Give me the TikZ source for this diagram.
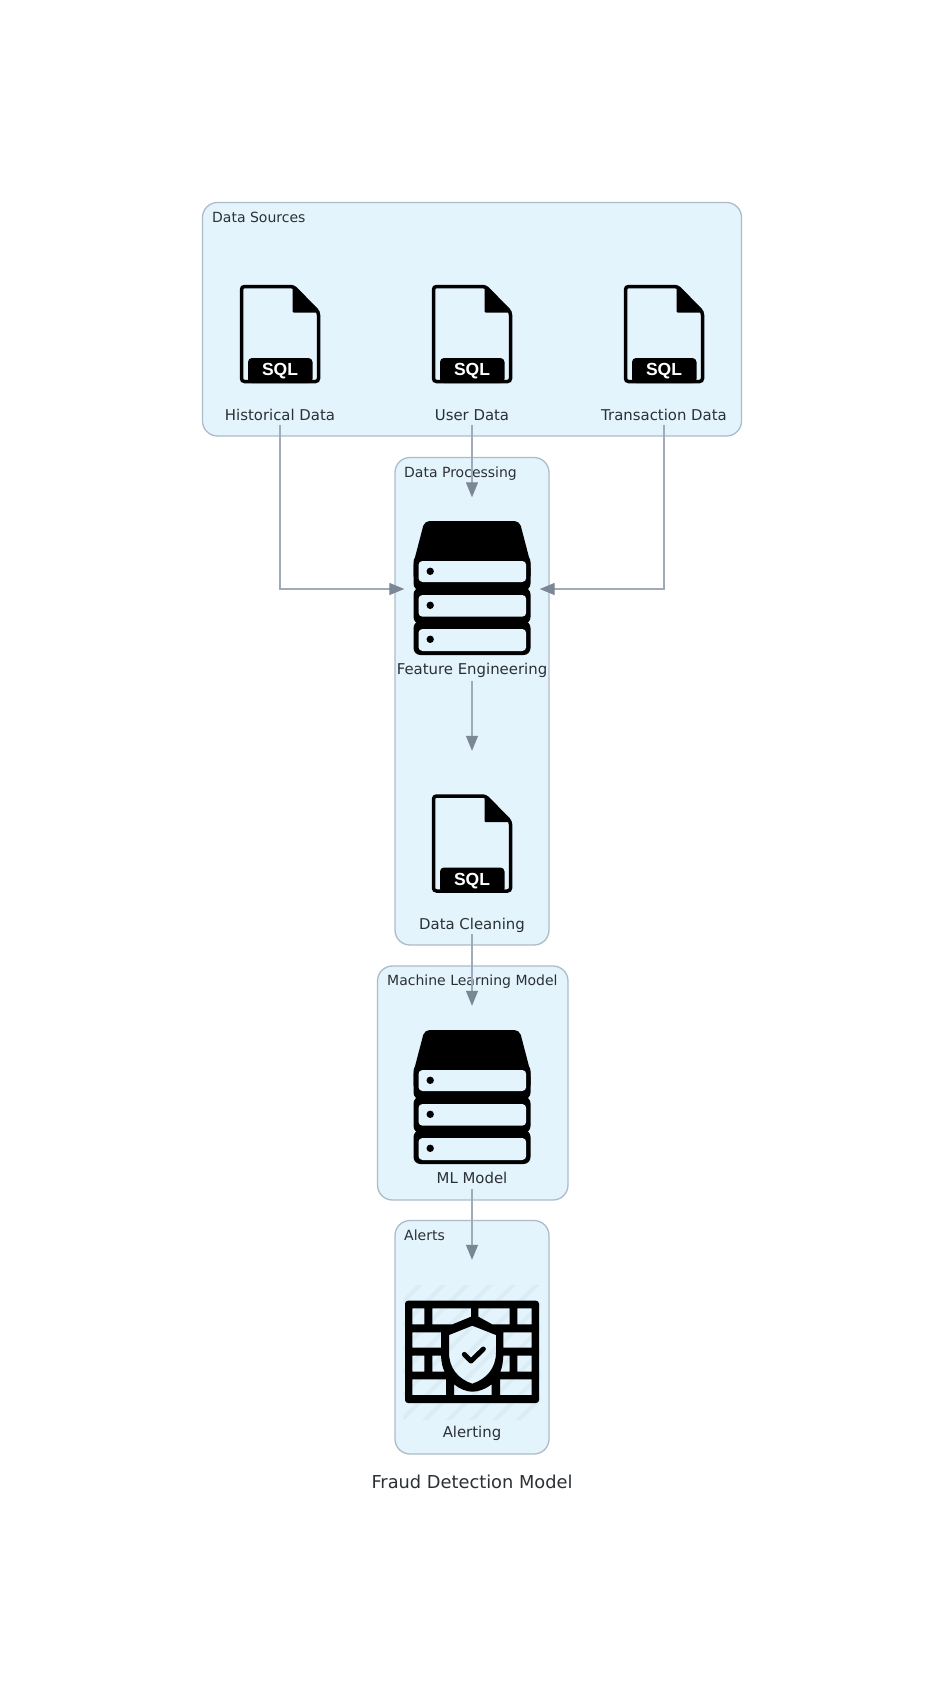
\documentclass[tikz,border=0pt]{standalone}
\usepackage{fontspec}
\setmainfont{DejaVu Sans}
\newfontfamily\sqlfont{Liberation Sans}
\usetikzlibrary{arrows.meta}
\definecolor{clfill}{HTML}{E3F4FD}
\definecolor{clline}{HTML}{AEBBC8}
\definecolor{edgeline}{HTML}{9FABB8}
\definecolor{edgehead}{HTML}{7B8794}
\definecolor{txt}{HTML}{2B3034}
\definecolor{stripe}{HTML}{DCECF5}
\tikzset{
  x=1pt,y=-1pt,
  cluster/.style={draw=clline,fill=clfill,line width=1.3pt,rounded corners=15pt},
  cltext/.style={anchor=base west,inner sep=0pt,text=txt,font=\fontsize{14}{16}\selectfont},
  svctext/.style={anchor=base,inner sep=0pt,text=txt,font=\fontsize{14.9}{17}\selectfont},
  svc/.style={inner sep=0pt,minimum width=135pt},
  conn/.style={draw=edgeline,line width=1.3pt,-{Triangle[length=15pt,width=12pt,color=edgehead]}},
  docicon/.pic={
    \draw[black,line width=3.5pt,rounded corners=3pt] (53.5,1.5) -- (1.5,1.5) -- (1.5,96.5) -- (78.5,96.5) -- (78.5,27) -- cycle;
    \fill[black,rounded corners=1pt] (52.5,0) -- (80,27.5) -- (52.5,27.5) -- cycle;
    \fill[black,rounded corners=4pt] (8,98) -- (8,73) -- (72.5,73) -- (72.5,98) -- cycle;
    \node[inner sep=0pt,text=white,font=\sqlfont\bfseries\fontsize{17.5}{18}\selectfont] (-sql) at (40,86.2) {SQL};
  },
  servericon/.pic={
    \fill[black,rounded corners=5pt] (0,42) -- (11,0) -- (106,0) -- (117,42) -- (117,60) -- (0,60) -- cycle;
    \fill[black,rounded corners=7pt] (0,34) rectangle (117,69.5);
    \fill[black,rounded corners=7pt] (0,66.5) rectangle (117,103);
    \fill[black,rounded corners=7pt] (0,100) rectangle (117,134);
    \foreach \t/\b in {40/61,74/95.7,108/130}{
      \fill[clfill,rounded corners=4pt] (5,\t) rectangle (112.7,\b);
      \fill[black] (16.7,\t+10.3) circle (3.7);
    }
  },
  fwicon/.pic={
    \begin{scope}[shift={(-10,-25.67)},scale=1/3]
      \begin{scope}
        \clip (25,30) rectangle (437,432);
        \foreach \k in {0,...,10}{
          \draw[stripe,line width=4pt] (105+70*\k-0,0) -- (0,105+70*\k);
        }
      \end{scope}
      \fill[black,even odd rule]
        [rounded corners=3pt] (30,77) -- (432,77) -- (432,384) -- (30,384) -- cycle
        [sharp corners]
        (52,100) rectangle (88,148)
        (112,100) -- (228,100) -- (228,125) -- (172,148) -- (112,148) -- cycle
        (250,100) -- (344,100) -- (344,148) -- (292,148) -- (250,125) -- cycle
        (367,100) rectangle (410,148)
        (52,172) rectangle (138,218)
        (325,172) rectangle (410,218)
        (52,242) rectangle (88,290)
        (112,242) -- (138,242) .. controls (139,260) and (142,278) .. (149,290) -- (112,290) -- cycle
        (344,242) -- (344,290) -- (316,290) .. controls (322,275) and (324,260) .. (325,242) -- cycle
        (367,242) rectangle (410,290)
        (52,313) rectangle (153,360)
        (315,313) rectangle (410,360)
        (177,328) .. controls (195,342) and (215,350) .. (232,350) .. controls (250,350) and (272,342) .. (290,328) -- (290,360) -- (177,360) -- cycle
        (232,152) -- (162,180) -- (162,232) .. controls (162,280) and (190,312) .. (232,326) .. controls (274,312) and (303,280) .. (303,232) -- (303,180) -- cycle;
      \draw[black,line width=5pt,line cap=round,line join=round] (208,238) -- (228,258) -- (265,222);
    \end{scope}
  }
}
\begin{document}
\begin{tikzpicture}
\useasboundingbox (0,0) rectangle (944,1691);
\fill[white] (0,0) rectangle (944,1691);
% clusters
\draw[cluster] (202.5,202.5) rectangle (741.5,436);
\draw[cluster] (395,457.5) rectangle (549,945);
\draw[cluster] (377.5,966) rectangle (568,1200);
\draw[cluster] (395,1220.5) rectangle (549,1454);
\node[cltext] (lsrc) at (212,222.7) {Data Sources};
\node[cltext] (lproc) at (404,477.5) {Data Processing};
\node[cltext] (lml) at (387,985.7) {Machine Learning Model};
\node[cltext] (lal) at (404,1240) {Alerts};
% service anchors
\node[svc,minimum height=155pt] (hist) at (280,347.5) {};
\node[svc,minimum height=155pt] (user) at (472,347.5) {};
\node[svc,minimum height=155pt] (trans) at (664,347.5) {};
\node[svc,minimum height=183pt] (feat) at (472,589) {};
\node[svc,minimum height=183pt] (clean) at (472,842.5) {};
\node[svc,minimum height=183pt] (ml) at (472,1097.5) {};
\node[svc,minimum height=183pt] (alert) at (472,1351.5) {};
% icons
\pic (ihist) at (240,285) {docicon};
\pic (iuser) at (432,285) {docicon};
\pic (itrans) at (624,285) {docicon};
\pic (iclean) at (432,794.5) {docicon};
\pic (ifeat) at (413.5,521) {servericon};
\pic (iml) at (413.5,1030) {servericon};
\pic (ialert) at (405,1300.7) {fwicon};
% labels
\node[svctext] (thist) at (280,420.7) {Historical Data};
\node[svctext] (tuser) at (472,420.7) {User Data};
\node[svctext] (ttrans) at (664,420.7) {Transaction Data};
\node[svctext] (tfeat) at (472,674.4) {Feature Engineering};
\node[svctext] (tclean) at (472,929.5) {Data Cleaning};
\node[svctext] (tml) at (472,1183.5) {ML Model};
\node[svctext] (talert) at (472,1437.7) {Alerting};
\node[anchor=base,inner sep=0pt,text=txt,font=\fontsize{17.8}{20}\selectfont] (title) at (472,1488) {Fraud Detection Model};
% connectors
\draw[conn] (user.south) -- (feat.north);
\draw[conn] (hist.south) |- (feat.west);
\draw[conn] (trans.south) |- (feat.east);
\draw[conn] (feat.south) -- (clean.north);
\draw[conn] (clean.south) -- (ml.north);
\draw[conn] (ml.south) -- (alert.north);
\end{tikzpicture}
\end{document}
